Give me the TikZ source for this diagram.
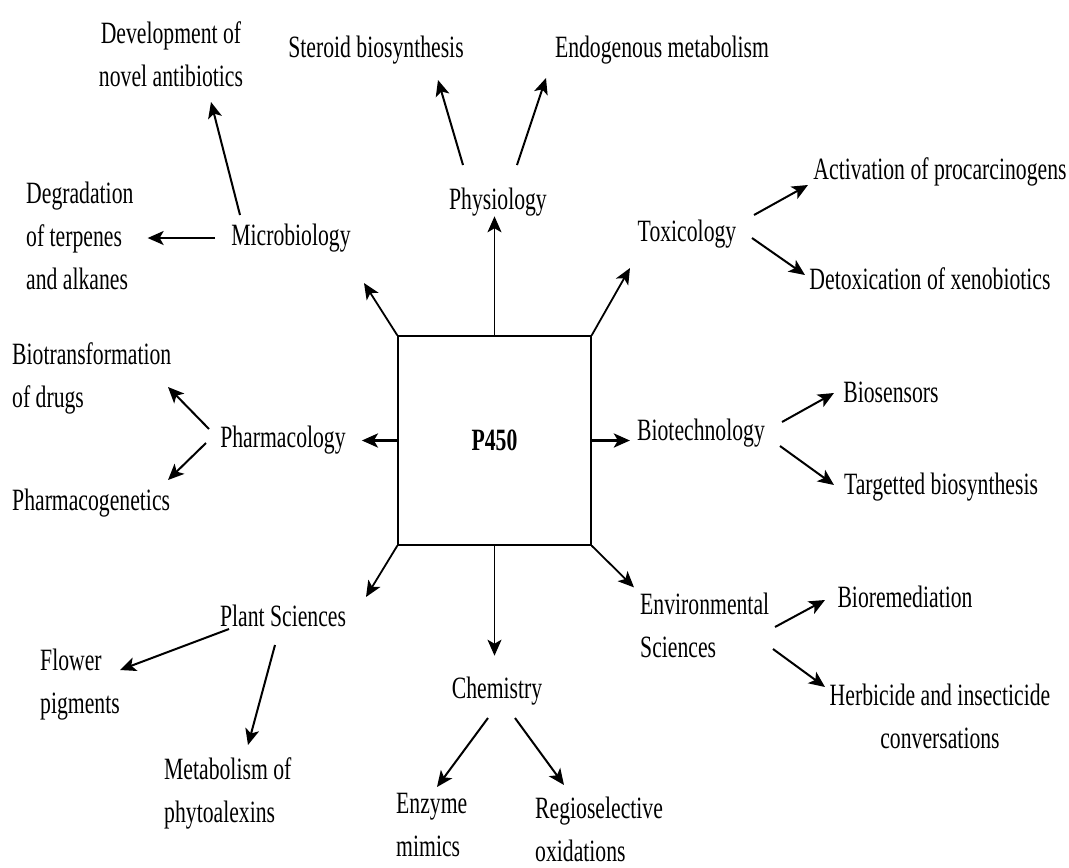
\documentclass[tikz,border=0pt]{standalone}
\usepackage{fontspec}
\setmainfont[FakeStretch=0.70]{Liberation Serif}
\usetikzlibrary{arrows.meta}

\begin{document}
\begin{tikzpicture}[x=1pt,y=-1pt]
  \newcommand{\diagfont}[0]{\fontsize{31}{43}\selectfont}

  \tikzstyle{lbl} = [
    inner sep=0pt,
    font=\diagfont,
  ]
  \tikzstyle{leaf} = [
    lbl,
    align=center,
  ]
  \tikzstyle{leafl} = [
    lbl,
    align=left,
    anchor=west,
  ]
  \tikzstyle{core} = [
    draw,
    line width=1.4pt,
    minimum width=193pt,
    minimum height=209pt,
    inner sep=0pt,
    font=\diagfont\bfseries,
  ]
  \tikzstyle{arr} = [
    line width=1.8pt,
    -{Stealth[length=16pt,width=14pt,inset=4pt]},
  ]
  \tikzstyle{side} = [
    arr,
    line width=3pt,
  ]
  \tikzstyle{sub} = [
    arr,
    line width=2pt,
  ]

  \fill[white] (0,0) rectangle (1069,868);
  \useasboundingbox (0,0) rectangle (1069,868);

  % centre
  \node[core] (p450) at (494.5,440.5) {P450};

  % fields
  \node[lbl] (phys) at (498,202) {Physiology};
  \node[lbl] (micro) at (291,238) {Microbiology};
  \node[lbl] (tox) at (687,234) {Toxicology};
  \node[lbl] (pharm) at (283,440) {Pharmacology};
  \node[lbl] (biotech) at (701,433) {Biotechnology};
  \node[lbl] (plant) at (283,616) {Plant Sciences};
  \node[lbl] (chem) at (497,691) {Chemistry};
  \node[leafl] (env) at (640,625) {Environmental\\Sciences};

  \draw[arr] (p450.north) -- (p450.north |- phys.south);
  \draw[arr] (p450.north west) -- ([shift={(73,45)}]micro.center);
  \draw[arr] (p450.north east) -- ([shift={(-57,34)}]tox.center);
  \draw[side,shorten >=16pt] (p450.west) -- (p450.west -| pharm.east);
  \draw[side,shorten >=7pt] (p450.east) -- (p450.east -| biotech.west);
  \draw[arr] (p450.south west) -- ([shift={(83,-19)}]plant.center);
  \draw[arr,shorten >=21pt] (p450.south) -- (p450.south |- chem.north);
  \draw[arr] (p450.south east) -- ([shift={(-6,-5)}]env.north west);

  % physiology
  {
    \node[lbl] (steroid) at (376,50) {Steroid biosynthesis};
    \node[lbl] (endo) at (662,50) {Endogenous metabolism};

    \draw[sub] ([shift={(-35,-37)}]phys.center) -- ([shift={(62,30)}]steroid.center);
    \draw[sub] ([shift={(19,-37)}]phys.center) -- ([shift={(-116,28)}]endo.center);
  }

  % microbiology
  {
    \node[leaf] (antib) at (171,54) {Development of\\novel antibiotics};
    \node[leafl] (degr) at (26,236) {Degradation\\of terpenes\\and alkanes};

    \draw[sub] ([shift={(-51,-23)}]micro.center) -- ([shift={(40,48)}]antib.center);
    \draw[sub] ([xshift=-16pt]micro.west) -- ([xshift=14pt]degr.east |- micro.west);
  }

  % toxicology
  {
    \node[lbl] (activ) at (940,172) {Activation of procarcinogens};
    \node[lbl] (detox) at (930,279) {Detoxication of xenobiotics};

    \draw[sub] ([shift={(67,-19)}]tox.center) -- ([shift={(-132,13)}]activ.center);
    \draw[sub] ([shift={(65,4)}]tox.center) -- ([shift={(-125,-4)}]detox.center);
  }

  % pharmacology
  {
    \node[leafl] (biotr) at (12,378) {Biotransformation\\of drugs};
    \node[leafl] (pgen) at (12,503) {Pharmacogenetics};

    \draw[sub] ([shift={(-74,-11)}]pharm.center) -- ([shift={(156,9)}]biotr.west);
    \draw[sub] ([shift={(-77,3)}]pharm.center) -- ([shift={(156,-23)}]pgen.west);
  }

  % biotechnology
  {
    \node[lbl] (biosens) at (891,392) {Biosensors};
    \node[lbl] (target) at (941,487) {Targetted biosynthesis};

    \draw[sub] ([shift={(81,-11)}]biotech.center) -- ([shift={(-57,1)}]biosens.center);
    \draw[sub] ([shift={(79,13)}]biotech.center) -- ([shift={(-107,-2)}]target.center);
  }

  % plant sciences
  {
    \node[leafl] (flower) at (40,685) {Flower\\pigments};
    \node[leafl] (metab) at (164,793) {Metabolism of\\phytoalexins};

    \draw[sub] ([shift={(-54,13)}]plant.center) -- ([shift={(80,-15)}]flower.west);
    \draw[sub] ([shift={(-8,29)}]plant.center) -- ([shift={(84,-48)}]metab.west);
  }

  % chemistry
  {
    \node[leafl] (enzyme) at (396,825) {Enzyme\\mimics};
    \node[leafl] (regio) at (535,829) {Regioselective\\oxidations};

    \draw[sub] ([shift={(-9,27)}]chem.center) -- ([shift={(41,-38)}]enzyme.west);
    \draw[sub] ([shift={(18,27)}]chem.center) -- ([shift={(29,-44)}]regio.west);
  }

  % environmental sciences
  {
    \node[lbl] (biorem) at (905,597) {Bioremediation};
    \node[leaf] (herb) at (940,716) {Herbicide and insecticide\\conversations};

    \draw[sub] ([shift={(135,2)}]env.west) -- ([shift={(-80,3)}]biorem.center);
    \draw[sub] ([shift={(133,24)}]env.west) -- ([shift={(-115,-29)}]herb.center);
  }
\end{tikzpicture}
\end{document}
